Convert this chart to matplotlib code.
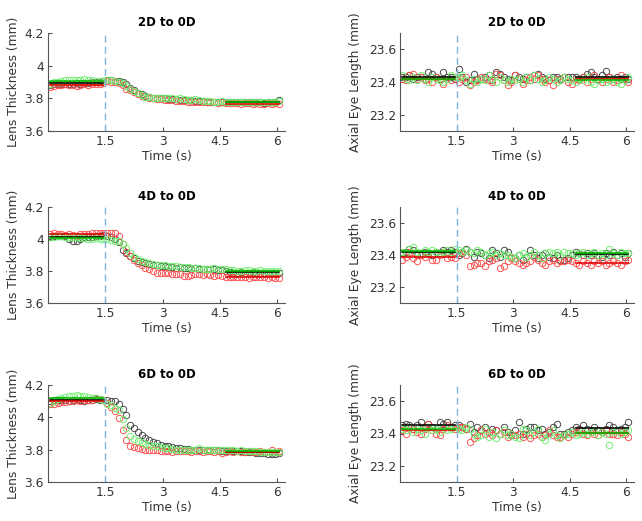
import numpy as np
import matplotlib.pyplot as plt

# time samples (s), 0.1 s step
t = np.arange(61) * 0.1 + 0.05

# lens thickness (mm), 2D -> 0D
lens_2d_k = [3.88, 3.885, 3.89, 3.89, 3.89, 3.89, 3.89, 3.895, 3.89, 3.895, 3.895, 3.90, 3.90, 3.90, 3.905,
             3.91, 3.91, 3.905, 3.905, 3.90,
             3.89, 3.865, 3.85, 3.835, 3.825, 3.815, 3.81, 3.805, 3.80, 3.80,
             3.80, 3.795, 3.795, 3.795, 3.79, 3.79, 3.79, 3.79, 3.785, 3.785, 3.785, 3.78, 3.78, 3.78, 3.78,
             3.78, 3.78, 3.78, 3.775, 3.775, 3.78, 3.775, 3.775, 3.775, 3.775, 3.775, 3.77, 3.775, 3.775, 3.775, 3.79]
lens_2d_r = [3.87, 3.875, 3.88, 3.88, 3.885, 3.88, 3.88, 3.875, 3.88, 3.885, 3.88, 3.885, 3.89, 3.89, 3.895,
             3.905, 3.90, 3.90, 3.895, 3.88,
             3.86, 3.85, 3.84, 3.825, 3.815, 3.81, 3.80, 3.80, 3.795, 3.795,
             3.79, 3.79, 3.79, 3.785, 3.785, 3.785, 3.78, 3.78, 3.78, 3.775, 3.775, 3.775, 3.775, 3.775, 3.77,
             3.775, 3.77, 3.77, 3.77, 3.77, 3.765, 3.77, 3.77, 3.765, 3.77, 3.765, 3.765, 3.77, 3.765, 3.77, 3.765]
lens_2d_g = [3.89, 3.90, 3.90, 3.905, 3.91, 3.915, 3.915, 3.91, 3.91, 3.92, 3.915, 3.91, 3.905, 3.905, 3.905,
             3.91, 3.91, 3.905, 3.90, 3.895,
             3.875, 3.855, 3.845, 3.83, 3.82, 3.81, 3.81, 3.805, 3.80, 3.80,
             3.80, 3.80, 3.80, 3.795, 3.80, 3.795, 3.79, 3.79, 3.795, 3.79, 3.785, 3.785, 3.785, 3.78, 3.78,
             3.785, 3.78, 3.78, 3.78, 3.78, 3.78, 3.78, 3.775, 3.78, 3.775, 3.78, 3.78, 3.775, 3.78, 3.78, 3.785]

# lens thickness (mm), 4D -> 0D
lens_4d_k = [4.01, 4.02, 4.02, 4.02, 4.02, 4.00, 3.99, 3.99, 4.00, 4.01, 4.01, 4.015, 4.02, 4.02, 4.025,
             4.02, 4.01, 4.00, 3.98, 3.93,
             3.91, 3.895, 3.88, 3.865, 3.855, 3.85, 3.845, 3.84, 3.835, 3.83,
             3.83, 3.825, 3.825, 3.82, 3.825, 3.82, 3.82, 3.815, 3.82, 3.81, 3.815, 3.815, 3.81, 3.81, 3.805,
             3.805, 3.80, 3.795, 3.79, 3.79, 3.795, 3.79, 3.79, 3.795, 3.79, 3.79, 3.79, 3.79, 3.79, 3.79, 3.79]
lens_4d_r = [4.03, 4.035, 4.03, 4.03, 4.025, 4.03, 4.025, 4.02, 4.03, 4.03, 4.03, 4.035, 4.035, 4.04, 4.04,
             4.035, 4.04, 4.035, 4.02, 3.97,
             3.92, 3.895, 3.87, 3.85, 3.835, 3.82, 3.81, 3.80, 3.79, 3.79,
             3.785, 3.785, 3.78, 3.78, 3.78, 3.77, 3.77, 3.775, 3.78, 3.78, 3.775, 3.78, 3.775, 3.77, 3.775,
             3.77, 3.765, 3.765, 3.76, 3.765, 3.76, 3.76, 3.755, 3.76, 3.76, 3.765, 3.76, 3.755, 3.76, 3.755, 3.755]
lens_4d_g = [4.01, 4.015, 4.02, 4.02, 4.015, 4.01, 4.01, 4.01, 4.005, 4.005, 4.00, 4.00, 4.005, 4.00, 4.00,
             4.00, 3.995, 3.99, 3.985, 3.97,
             3.945, 3.915, 3.89, 3.875, 3.865, 3.855, 3.85, 3.845, 3.84, 3.84,
             3.835, 3.83, 3.83, 3.83, 3.825, 3.825, 3.825, 3.82, 3.82, 3.82, 3.815, 3.815, 3.815, 3.82, 3.81,
             3.81, 3.81, 3.805, 3.805, 3.80, 3.80, 3.805, 3.805, 3.80, 3.80, 3.805, 3.80, 3.80, 3.80, 3.80, 3.80]

# lens thickness (mm), 6D -> 0D
lens_6d_k = [4.10, 4.11, 4.11, 4.11, 4.105, 4.10, 4.11, 4.11, 4.105, 4.10, 4.11, 4.11, 4.115, 4.11, 4.11,
             4.105, 4.10, 4.10, 4.085, 4.05,
             4.015, 3.955, 3.935, 3.91, 3.89, 3.875, 3.86, 3.85, 3.84, 3.83,
             3.825, 3.82, 3.815, 3.81, 3.81, 3.805, 3.805, 3.80, 3.80, 3.80, 3.80, 3.795, 3.795, 3.795, 3.795,
             3.79, 3.79, 3.79, 3.79, 3.79, 3.79, 3.785, 3.785, 3.785, 3.78, 3.78, 3.78, 3.775, 3.775, 3.775, 3.78]
lens_6d_r = [4.08, 4.085, 4.09, 4.095, 4.095, 4.10, 4.10, 4.105, 4.10, 4.11, 4.11, 4.11, 4.12, 4.115, 4.11,
             4.09, 4.065, 4.04, 3.995, 3.92,
             3.86, 3.825, 3.815, 3.81, 3.805, 3.80, 3.80, 3.795, 3.795, 3.79,
             3.79, 3.79, 3.785, 3.79, 3.79, 3.79, 3.79, 3.785, 3.79, 3.79, 3.785, 3.79, 3.79, 3.785, 3.79,
             3.78, 3.785, 3.79, 3.785, 3.79, 3.785, 3.785, 3.79, 3.785, 3.785, 3.79, 3.785, 3.785, 3.795, 3.785, 3.79]
lens_6d_g = [4.09, 4.10, 4.115, 4.12, 4.125, 4.13, 4.13, 4.14, 4.135, 4.13, 4.125, 4.12, 4.12, 4.115, 4.11,
             4.08, 4.075, 4.06, 4.045, 3.99,
             3.935, 3.885, 3.865, 3.855, 3.845, 3.835, 3.83, 3.825, 3.82, 3.815,
             3.81, 3.81, 3.805, 3.80, 3.80, 3.80, 3.80, 3.80, 3.80, 3.81, 3.795, 3.80, 3.80, 3.795, 3.80,
             3.80, 3.80, 3.795, 3.795, 3.79, 3.795, 3.79, 3.79, 3.79, 3.79, 3.785, 3.785, 3.785, 3.785, 3.785, 3.785]

# axial eye length (mm), 2D -> 0D
axl_2d_k = [23.43, 23.43, 23.44, 23.42, 23.43, 23.43, 23.42, 23.46, 23.45, 23.43, 23.42, 23.46, 23.43, 23.43, 23.42,
            23.48, 23.43, 23.40, 23.41, 23.45,
            23.42, 23.42, 23.43, 23.44, 23.41, 23.46, 23.45, 23.43, 23.42, 23.41,
            23.44, 23.43, 23.42, 23.43, 23.41, 23.44, 23.45, 23.43, 23.42, 23.41, 23.43, 23.43, 23.42, 23.43, 23.43,
            23.43, 23.43, 23.42, 23.43, 23.45, 23.46, 23.43, 23.42, 23.44, 23.47, 23.43, 23.42, 23.43, 23.42, 23.43, 23.42]
axl_2d_r = [23.42, 23.41, 23.44, 23.45, 23.42, 23.43, 23.41, 23.42, 23.40, 23.43, 23.41, 23.39, 23.42, 23.41, 23.43,
            23.40, 23.42, 23.43, 23.38, 23.40,
            23.41, 23.43, 23.42, 23.41, 23.40, 23.45, 23.44, 23.41, 23.38, 23.40,
            23.44, 23.42, 23.39, 23.41, 23.43, 23.42, 23.44, 23.42, 23.40, 23.41, 23.38, 23.42, 23.41, 23.43, 23.40,
            23.39, 23.42, 23.41, 23.43, 23.40, 23.42, 23.44, 23.41, 23.40, 23.42, 23.43, 23.40, 23.41, 23.44, 23.42, 23.40]
axl_2d_g = [23.44, 23.42, 23.41, 23.43, 23.41, 23.44, 23.42, 23.40, 23.43, 23.42, 23.41, 23.40, 23.42, 23.44, 23.43,
            23.43, 23.44, 23.41, 23.39, 23.42,
            23.40, 23.42, 23.41, 23.44, 23.42, 23.40, 23.43, 23.41, 23.40, 23.42,
            23.41, 23.42, 23.40, 23.43, 23.41, 23.44, 23.42, 23.40, 23.41, 23.43, 23.42, 23.40, 23.41, 23.43, 23.42,
            23.41, 23.40, 23.42, 23.41, 23.43, 23.40, 23.39, 23.41, 23.42, 23.40, 23.41, 23.42, 23.40, 23.39, 23.41, 23.43]

# axial eye length (mm), 4D -> 0D
axl_4d_k = [23.41, 23.42, 23.44, 23.43, 23.40, 23.41, 23.42, 23.41, 23.40, 23.42, 23.41, 23.43, 23.42, 23.43, 23.42,
            23.40, 23.41, 23.44, 23.42, 23.39,
            23.42, 23.41, 23.40, 23.38, 23.43, 23.41, 23.39, 23.43, 23.42, 23.39,
            23.38, 23.40, 23.37, 23.39, 23.43, 23.40, 23.38, 23.40, 23.41, 23.39, 23.38, 23.40, 23.37, 23.37, 23.38,
            23.40, 23.42, 23.41, 23.40, 23.41, 23.40, 23.41, 23.40, 23.39, 23.41, 23.40, 23.42, 23.40, 23.41, 23.39, 23.41]
axl_4d_r = [23.37, 23.39, 23.42, 23.38, 23.36, 23.40, 23.39, 23.41, 23.37, 23.37, 23.40, 23.42, 23.38, 23.39, 23.38,
            23.41, 23.42, 23.40, 23.33, 23.34,
            23.35, 23.35, 23.33, 23.36, 23.37, 23.38, 23.32, 23.33, 23.36, 23.38,
            23.36, 23.35, 23.34, 23.35, 23.36, 23.39, 23.37, 23.35, 23.34, 23.36, 23.37, 23.35, 23.36, 23.36, 23.37,
            23.36, 23.35, 23.34, 23.36, 23.35, 23.34, 23.36, 23.35, 23.36, 23.34, 23.35, 23.36, 23.35, 23.34, 23.36, 23.37]
axl_4d_g = [23.42, 23.41, 23.44, 23.45, 23.42, 23.41, 23.43, 23.42, 23.43, 23.42, 23.41, 23.42, 23.43, 23.42, 23.44,
            23.43, 23.42, 23.43, 23.42, 23.41,
            23.43, 23.42, 23.40, 23.41, 23.42, 23.40, 23.41, 23.40, 23.40, 23.39,
            23.38, 23.40, 23.41, 23.39, 23.40, 23.42, 23.40, 23.38, 23.41, 23.42, 23.41, 23.42, 23.40, 23.42, 23.41,
            23.41, 23.40, 23.41, 23.42, 23.40, 23.41, 23.42, 23.40, 23.41, 23.40, 23.44, 23.41, 23.40, 23.42, 23.41, 23.41]

# axial eye length (mm), 6D -> 0D
axl_6d_k = [23.45, 23.46, 23.45, 23.43, 23.45, 23.47, 23.44, 23.46, 23.44, 23.43, 23.47, 23.46, 23.47, 23.44, 23.45,
            23.45, 23.44, 23.43, 23.46, 23.41,
            23.44, 23.42, 23.44, 23.41, 23.43, 23.42, 23.40, 23.44, 23.41, 23.39,
            23.42, 23.47, 23.40, 23.43, 23.44, 23.44, 23.42, 23.43, 23.40, 23.41, 23.44, 23.46, 23.40, 23.40, 23.41,
            23.42, 23.44, 23.43, 23.45, 23.43, 23.42, 23.44, 23.42, 23.41, 23.43, 23.45, 23.44, 23.42, 23.43, 23.44, 23.47]
axl_6d_r = [23.42, 23.40, 23.44, 23.43, 23.41, 23.40, 23.43, 23.46, 23.42, 23.40, 23.39, 23.43, 23.45, 23.44, 23.43,
            23.44, 23.44, 23.43, 23.35, 23.37,
            23.39, 23.42, 23.40, 23.41, 23.39, 23.42, 23.40, 23.41, 23.38, 23.40,
            23.39, 23.40, 23.38, 23.40, 23.37, 23.39, 23.40, 23.38, 23.39, 23.42, 23.39, 23.38, 23.38, 23.39, 23.38,
            23.40, 23.41, 23.42, 23.40, 23.39, 23.41, 23.40, 23.39, 23.41, 23.42, 23.40, 23.40, 23.39, 23.41, 23.40, 23.38]
axl_6d_g = [23.43, 23.42, 23.44, 23.41, 23.43, 23.42, 23.40, 23.44, 23.42, 23.43, 23.41, 23.44, 23.42, 23.43, 23.44,
            23.43, 23.42, 23.44, 23.43, 23.40,
            23.38, 23.39, 23.43, 23.38, 23.41, 23.37, 23.40, 23.42, 23.39, 23.40,
            23.38, 23.37, 23.43, 23.42, 23.39, 23.41, 23.43, 23.38, 23.36, 23.40, 23.42, 23.39, 23.37, 23.39, 23.40,
            23.41, 23.39, 23.40, 23.41, 23.40, 23.41, 23.42, 23.39, 23.41, 23.40, 23.33, 23.41, 23.42, 23.40, 23.41, 23.42]

titles = ['2D to 0D', '4D to 0D', '6D to 0D']
lens_rows = [(lens_2d_k, lens_2d_r, lens_2d_g), (lens_4d_k, lens_4d_r, lens_4d_g), (lens_6d_k, lens_6d_r, lens_6d_g)]
axl_rows = [(axl_2d_k, axl_2d_r, axl_2d_g), (axl_4d_k, axl_4d_r, axl_4d_g), (axl_6d_k, axl_6d_r, axl_6d_g)]

marker_cols = ['#404040', '#ff4a4a', '#6cf06c']
line_cols = ['#000000', '#e00000', '#00c000']
xticks = [1.5, 3, 4.5, 6]
t_step = 1.5      # stimulus change
base = t < 1.5
final = t > 4.6

W, H = 642, 521
rows_px = [(33, 131), (207, 303), (385, 482)]
cols_px = [(48, 285), (400, 634)]

fig = plt.figure(figsize=(W / 100, H / 100), dpi=100)
plt.rcParams['font.family'] = 'DejaVu Sans'
plt.rcParams['font.size'] = 8.8

for r in range(3):
    y0, y1 = rows_px[r]
    for c in range(2):
        x0, x1 = cols_px[c]
        ax = fig.add_axes([x0 / W, 1 - y1 / H, (x1 - x0) / W, (y1 - y0) / H])
        series = lens_rows[r] if c == 0 else axl_rows[r]
        for ys, mc in zip(series, marker_cols):
            ax.plot(t, ys, 'o', mfc='none', mec=mc, ms=4.6, mew=0.65)
        for ys, lc in zip(series, line_cols):
            ys = np.array(ys)
            ax.plot(t[base][[0, -1]], [ys[base].mean()] * 2, color=lc, lw=1.1)
            ax.plot(t[final][[0, -1]], [ys[final].mean()] * 2, color=lc, lw=1.1)
        ax.axvline(t_step, color='#7fb3de', ls=(0, (5, 3)), lw=1)
        ax.set_xlim(0, 6.2)
        ax.set_xticks(xticks)
        ax.set_xticklabels(['1.5', '3', '4.5', '6'])
        if c == 0:
            ax.set_ylim(3.6, 4.2)
            ax.set_yticks([3.6, 3.8, 4.0, 4.2])
            ax.set_yticklabels(['3.6', '3.8', '4', '4.2'])
            ax.set_ylabel('Lens Thickness (mm)', labelpad=3, color='#333333')
        else:
            ax.set_ylim(23.1, 23.7)
            ax.set_yticks([23.2, 23.4, 23.6])
            ax.set_ylabel('Axial Eye Length (mm)', labelpad=5, color='#333333')
        ax.set_xlabel('Time (s)', labelpad=1, color='#333333')
        ax.set_title(titles[r], fontweight='bold', fontsize=8.5, pad=5)
        for s in ['top', 'right']:
            ax.spines[s].set_visible(False)
        for s in ['left', 'bottom']:
            ax.spines[s].set_color('#555555')
        ax.tick_params(direction='in', length=3, colors='#555555', labelcolor='#333333', pad=3)

fig.savefig('out.png', dpi=100)
